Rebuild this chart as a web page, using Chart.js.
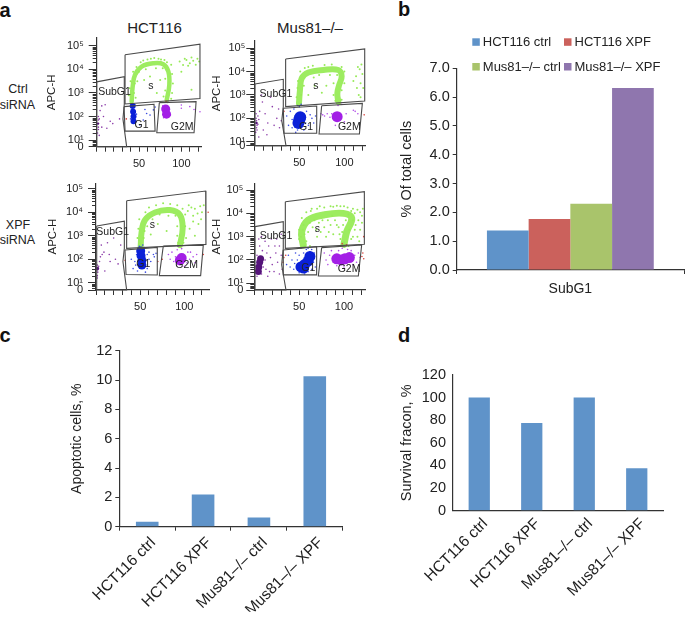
<!DOCTYPE html>
<html><head><meta charset="utf-8">
<style>
html,body{margin:0;padding:0;background:#fff;width:685px;height:617px;overflow:hidden}
canvas{position:absolute;left:0;top:0;pointer-events:none}
.t{position:absolute;font-family:"Liberation Sans",Arial,sans-serif;color:#222;white-space:nowrap;transform:translate(-50%,-50%);line-height:1}
.p{font-weight:bold;font-size:20px;color:#111}
</style>
<script src="https://cdn.jsdelivr.net/npm/chart.js@4"></script>
</head><body>
<script>
// ---------- panel b / c / d values ----------
const groups = ["HCT116 ctrl","HCT116 XPF","Mus81–/– ctrl","Mus81–/– XPF"];
const subG1Category = ["SubG1"];
const subG1Values = [1.37,1.77,2.30,6.32];
const apoptoticValues = [0.33,2.2,0.62,10.25];
const survivalValues = [100,77.5,100,37.5];
const groupColors = ["#5f93c9","#cb615c","#a9c46b","#8f76ae"];

// ---------- flow panels: x = DNA content, y = log10(APC-H) ----------
const gateNames = ["SubG1","s","G1","G2M"];
const xTickValues = [0,10,20,30,40,50,60,70,80,90,100,110,120];
const decadeValues = [1,2,3,4,5];
const decadeLabels = ["10¹","10²","10³","10⁴","10⁵"];
const minorFractions = [.301,.477,.602,.699,.778,.845,.903,.954];

// HCT116 ctrl
const a1Gates = [
 [[0,3.47],[32.6,3.69],[32.6,2.53],[31,1.9],[35.4,.72],[0,.72],[0,3.47]],
 [[33.5,4.62],[122,5.07],[122,2.76],[33.5,2.53],[33.5,4.62]],
 [[32.3,2.42],[67.7,2.52],[69,1.38],[33.5,1.38],[32.3,2.42]],
 [[74,2.59],[117.4,2.63],[115,1.31],[71,1.31],[74,2.59]]];
const a1GateText = [[21,3.03],[64,3.27],[53,1.64],[101,1.57]];
const a1Arc = [[41.3,2.63],[42.5,3.27],[45.3,3.77],[53.1,4.12],[66.9,4.26],[78.7,4.22],[84.6,3.91],[85.8,3.34],[82.7,2.7]];
const a1Green = [[38,2.9],[39,3.2],[40,3.5],[44,3.0],[46,2.8],[45,3.4],[48,3.5],[43,3.9],[47,4.1],[50,3.9],[52,4.3],[55,4.38],[58,4.0],[60,4.42],[64,4.45],[68,4.48],[70,4.05],[73,4.45],[76,4.42],[78,4.05],[80,4.4],[83,4.3],[88,4.2],[89,3.8],[90,3.4],[89,3.0],[88,2.75],[81,3.6],[81,3.1],[79,2.85],[84,2.6],[56,3.55],[71,3.0],[75,3.55],[63,3.7],[98,4.33],[102,4.19],[104,4.45],[106,4.4],[108,4.15],[110,4.26],[112,4.5],[114,4.36],[117,4.2],[119,4.45],[121,4.33],[112,3.13],[100,3.9]];
const a1BlueCore = [[42.5,2.45],[43,2.2],[43.5,2.0],[43.5,1.8]];
const a1Blue = [[45,2.5],[41,2.3],[47,2.1],[40,1.9],[46,1.75],[59,2.13],[67,2.28],[55,1.85],[63,2.06],[51,1.64],[69,2.4],[57,2.3]];
const a1PurpleCore = [[81.5,2.32],[82.5,2.1]];
const a1Purple = [[100,2.35],[110,2.42],[122,2.2],[100,2.49],[78,2.45],[86,2.3],[87,2.05],[79,1.95],[84,2.6],[115,2.3]];
const a1SubCore = [[1.5,1.7]];
const a1Sub = [[2,2.0],[2,1.85],[2,1.7],[2,1.55],[2,1.45],[1,1.3],[3,1.9],[6,2.45],[8,2.0],[16,1.8],[4,2.25],[19,1.7],[27,1.9],[12,1.5],[10,2.5],[3,1.2],[6,1.55]];
const a1Red = [[82,2.65],[35,1.9]];

// Mus81–/– ctrl
const a2Gates = [
 [[.7,3.47],[32.2,3.67],[32.2,2.5],[30.5,1.9],[35.2,.83],[.7,.83],[.7,3.47]],
 [[34.8,4.54],[122.6,4.97],[122.6,2.74],[34.8,2.5],[34.8,4.54]],
 [[32.2,2.43],[69.3,2.53],[69.3,1.36],[33,1.36],[32.2,2.43]],
 [[74.8,2.54],[120,2.64],[116.7,1.33],[71.9,1.33],[74.8,2.54]]];
const a2GateText = [[24,3.04],[68.5,3.36],[57.4,1.64],[105.5,1.64]];
const a2Arc = [[49.6,2.64],[50.7,3.21],[52.6,3.71],[60,3.96],[76.7,4.07],[93.3,4.07],[97,3.8],[94,3.4],[92.2,3.07],[93.3,2.71]];
const a2Green = [[47,2.9],[48,3.3],[48.5,3.6],[52,3.0],[55,3.4],[51,4.0],[56,4.15],[60,4.2],[66,3.75],[65,4.25],[72,3.85],[78,4.28],[84,3.85],[86,4.3],[92,3.85],[97,4.2],[100,4.0],[100,3.5],[97,3.2],[88,3.5],[88,3.0],[97,2.8],[95,2.6],[90,2.75],[67,3.4],[75,3.1],[80,3.4],[60,3.0],[113,3.8],[115,4.2],[118,3.5],[116,3.0],[120,3.9],[114,3.3],[118,2.9],[110,3.6],[119,4.3],[117,4.1],[121,3.3]];
const a2BlueCore = [[50,1.95],[49,1.8],[51,2.05]];
const a2Blue = [[36,2.1],[38,1.7],[40,2.3],[42,1.6],[44,2.4],[46,1.4],[48,2.55],[52,2.6],[55,1.5],[58,2.3],[60,1.7],[62,2.15],[64,2.0],[68,2.1],[66,1.8],[45,2.0],[56,2.1],[42,1.95],[57,1.8],[50,2.5],[48,1.5]];
const a2PurpleCore = [[92,2.07]];
const a2Purple = [[76,2.15],[78,2.1],[81,2.2],[84,2.05],[74,2.2],[86,2.2],[93,2.55],[97,2.6],[102,2.2],[100,1.85],[90,1.7],[112,2.3],[115,2.2],[110,2.35]];
const a2SubCore = [[2.5,1.8]];
const a2Sub = [[2,2.2],[2,2.0],[2.5,1.9],[2,1.8],[3,1.7],[2.5,1.6],[3,1.5],[1.5,1.4],[4,2.1],[5,1.95],[4,1.75],[6,2.3],[9,2.7],[12,2.2],[15,1.8],[10,1.5],[20,2.5],[22,1.7],[25,2.0],[28,1.6],[18,2.9],[8,3.0],[14,1.3],[27,2.4],[30,1.9],[5,1.2]];
const a2Red = [[122,2.15],[33,2.3]];

// HCT116 XPF
const a3Gates = [
 [[.8,3.41],[32.1,3.62],[32.1,2.46],[30.5,1.9],[34.7,.69],[.8,.69],[.8,3.41]],
 [[34.7,4.49],[124.2,4.9],[124.5,2.63],[34.7,2.46],[34.7,4.49]],
 [[32.8,2.39],[69.4,2.5],[69.4,1.33],[34,1.35],[32.8,2.39]],
 [[76.2,2.56],[121.5,2.6],[118.5,1.3],[71.7,1.3],[76.2,2.56]]];
const a3GateText = [[18.9,3.17],[63.8,3.45],[53.6,1.78],[102.6,1.75]];
const a3Arc = [[50.6,2.53],[51.7,3.17],[55.5,3.67],[66.8,3.99],[83.8,4.09],[95.1,3.88],[98.1,3.31],[95.1,2.6]];
const a3Green = [[47,2.9],[48,3.3],[49,3.7],[54,2.9],[55,3.2],[58,3.4],[56,4.0],[60,4.2],[64,3.7],[68,4.3],[72,3.9],[76,4.38],[82,3.85],[84,4.35],[90,3.85],[92,4.3],[98,4.15],[101,3.9],[101,3.4],[102,2.9],[92,3.4],[92,3.0],[93,2.7],[99,2.7],[70,3.5],[80,3.2],[62,3.05],[104,4.05],[108,4.2],[110,3.85],[112,4.15],[115,3.95],[118,4.25],[120,4.0],[122,4.3],[110,3.6],[116,3.5],[106,3.3],[112,3.0],[105,4.3],[119,3.7]];
const a3BlueCore = [[50.6,2.35],[51,2.15],[52,1.95],[52,1.75]];
const a3Blue = [[40,2.0],[42,1.6],[44,1.9],[46,2.2],[47,1.5],[55,2.5],[58,2.2],[60,2.0],[62,1.9],[65,2.2],[66,2.1],[58,1.6],[56,1.45],[49,2.55],[53,2.6],[68,2.25],[45,1.75],[60,2.3]];
const a3PurpleCore = [[97,2.05],[95,1.95]];
const a3Purple = [[82,2.2],[84,2.0],[86,2.3],[88,1.9],[90,2.1],[92,2.4],[93,2.55],[104,2.3],[106,2.0],[110,2.1],[112,1.85],[114,2.2],[100,1.7],[103,1.85],[107,2.3],[97,2.45]];
const a3SubCore = [[1.5,1.6]];
const a3Sub = [[1.5,1.75],[2,1.65],[2,1.55],[2,1.45],[3,1.7],[1.5,1.3],[1.5,1.2],[4,1.9],[5,2.1],[7,2.2],[6,2.6],[13,2.7],[15,2.2],[22,2.0],[25,1.8],[10,1.5],[16,1.9],[9,2.3],[20,2.9],[28,2.6]];
const a3Red = [[75,2.0],[70,1.9],[127,4.0],[121.5,2.2],[33,1.95]];

// Mus81–/– XPF
const a4Gates = [
 [[.7,3.43],[32.3,3.64],[32.3,2.5],[30.5,1.79],[35.3,.71],[.7,.71],[.7,3.43]],
 [[34.6,4.5],[122.7,4.93],[122.7,2.67],[34.6,2.5],[34.6,4.5]],
 [[32.3,2.43],[69.5,2.57],[69.5,1.36],[33.1,1.36],[32.3,2.43]],
 [[75.1,2.53],[119.7,2.64],[116,1.31],[71.4,1.31],[75.1,2.53]]];
const a4GateText = [[24.2,3.04],[70.3,3.33],[60.2,1.64],[105.6,1.6]];
const a4Arc = [[54.6,2.64],[52.8,3.21],[60.2,3.71],[77,3.93],[99.3,4.0],[108.6,3.79],[103,3.21],[100,2.67]];
const a4Green = [[50,2.9],[50,3.3],[53,3.8],[58,4.05],[63,4.1],[70,4.2],[78,4.25],[85,4.3],[92,4.33],[100,4.3],[108,4.1],[110,3.7],[112,3.3],[108,2.9],[105,2.6],[98,3.2],[94,3.4],[90,3.7],[85,3.5],[78,3.4],[72,3.6],[65,3.4],[60,3.2],[58,2.8],[62,2.6],[70,3.0],[80,3.0],[88,3.1],[96,2.9],[100,2.75],[112,4.0],[115,4.15],[118,4.05],[120,3.9],[116,3.7],[113,3.5],[118,3.3],[120,3.6],[115,3.0],[110,4.2],[121,4.2],[117,2.8],[52,3.0],[55,3.5],[56,3.1],[62,3.6],[67,3.7],[69,3.3],[74,3.2],[76,3.7],[82,3.7],[83,3.2],[87,3.9],[92,3.5],[95,3.1],[99,3.5],[102,3.7],[105,3.95],[106,3.3],[110,3.0],[64,4.2],[73,4.3],[88,4.28],[96,4.3],[104,4.25],[56,2.6],[54,3.3]];
const a4BlueCore = [[52,1.7],[55,1.65],[56,1.8],[60,1.95],[62,2.15]];
const a4Blue = [[36,1.8],[38,2.2],[40,1.7],[42,2.0],[44,1.6],[46,2.3],[48,2.0],[50,2.2],[52,2.5],[55,2.3],[58,2.45],[60,2.5],[64,2.45],[67,2.3],[66,1.9],[64,1.6],[60,1.5],[68,1.7],[50,1.45],[56,1.4],[45,1.85],[62,2.35]];
const a4PurpleCore = [[92,2.05],[97,2.0],[101,2.05],[106,2.1]];
const a4Purple = [[78,2.3],[80,2.0],[82,1.8],[84,2.2],[86,2.4],[88,1.9],[90,2.2],[92,1.75],[94,2.4],[98,2.5],[104,2.45],[108,2.4],[112,2.2],[114,1.9],[116,2.3],[110,1.8],[118,2.1],[100,1.7]];
const a4SubCore = [[4.5,1.5],[5,1.7],[6,1.9],[7,2.05]];
const a4Sub = [[3,1.3],[8,1.4],[10,1.7],[12,2.0],[14,2.3],[9,2.4],[6,2.6],[5,2.9],[12,2.8],[16,2.6],[18,2.1],[20,1.8],[22,1.5],[24,2.3],[26,1.9],[28,2.6],[30,2.2],[31,1.6],[15,1.3],[19,2.9],[25,2.9],[30,3.1],[13,1.6],[17,1.5],[23,2.6],[28,1.4],[8,3.0],[3,2.2]];
const a4Red = [[120,2.15],[121,2.3],[122,2.05],[32,1.9],[33,2.1],[98,2.7],[103,2.65],[35,2.2],[122,3.0]];

// ---------- helpers ----------
const FONT = '"Liberation Sans", Arial, sans-serif';
const INK = "#222";
Chart.defaults.font.family = FONT;
Chart.defaults.color = INK;
Chart.defaults.animation = false;

function canvas(){
  const c = document.createElement("canvas");
  c.width = 685; c.height = 617; document.body.appendChild(c);
  return c.getContext("2d");
}
function text(str,x,y,size,cls){
  const d = document.createElement("div");
  d.className = "t" + (cls ? " " + cls : "");
  d.textContent = str; d.style.left = x + "px"; d.style.top = y + "px";
  if (size) d.style.fontSize = size + "px";
  document.body.appendChild(d);
}
// Places the plot area at a fixed rectangle of the page.
function frame(box, yWidth, xHeight){
  return {padding:{left:box.L - yWidth, right:685 - box.R, top:box.T, bottom:617 - box.B - xHeight}};
}
const flowPlugin = {
  id:"flowExtras",
  afterDraw(chart,_a,o){
    const {ctx,scales:{x,y}} = chart;
    ctx.save();
    ctx.strokeStyle = "#333"; ctx.lineWidth = 1;
    ctx.beginPath();
    decadeValues.forEach(d => minorFractions.forEach(f => {
      const v = d - 1 + f;
      if (v < y.min || v > y.max) return;
      const p = Math.round(y.getPixelForValue(v)) + .5;
      ctx.moveTo(x.left, p); ctx.lineTo(x.left - 4, p);
    }));
    ctx.stroke();
    ctx.fillStyle = "#222"; ctx.font = "10.5px " + FONT;
    ctx.textAlign = "center"; ctx.textBaseline = "middle";
    o.labels.forEach((s,i) => ctx.fillText(s, x.getPixelForValue(o.at[i][0]), y.getPixelForValue(o.at[i][1])));
    ctx.restore();
  }
};
function flowChart(box,xMax,yMin,yMax,titleX,P,arcWidth,coreR,yPad){
  const yw = box.L - titleX + 6.9;
  const pts = (data,color,r,order) => ({data,showLine:false,pointRadius:r,pointBorderWidth:0,pointBackgroundColor:color,order,clip:false});
  const datasets = [];
  P.gates.forEach(g => datasets.push({data:g,showLine:true,tension:0,borderColor:"#4a4a4a",borderWidth:1.1,pointRadius:0,order:0,clip:false}));
  datasets.push({data:P.arc,showLine:true,tension:.4,borderColor:"#9dec60",borderWidth:arcWidth,borderCapStyle:"round",pointRadius:0,order:6});
  datasets.push(pts(P.green,"#97ea58",1,5));
  datasets.push(pts(P.blue,"#3a4be0",.8,4));
  datasets.push(pts(P.blueCore,"#0a20d8",coreR[0],3));
  datasets.push(pts(P.purple,"#b04be8",.8,4));
  datasets.push(pts(P.purpleCore,"#a31fe6",coreR[1],3));
  datasets.push(pts(P.sub,"#8a3aa8",.8,4));
  datasets.push(pts(P.subCore,"#55147a",coreR[2],3));
  datasets.push(pts(P.red,"#d8443c",.8,2));
  new Chart(canvas(),{
    type:"scatter",
    data:{datasets},
    options:{
      responsive:false,events:[],
      layout:frame(box,yw,32),
      plugins:{legend:{display:false},tooltip:{enabled:false},
        flowExtras:{labels:gateNames,at:P.text}},
      scales:{
        x:{type:"linear",min:0,max:xMax,
          afterFit(s){s.height=32;},
          afterBuildTicks(s){s.ticks=xTickValues.map(value=>({value}));},
          grid:{drawOnChartArea:false,tickLength:5,tickColor:"#333"},
          border:{color:"#333",width:1.2},
          ticks:{autoSkip:false,maxRotation:0,padding:5.5,font:{size:11},
            callback:v=>(v===50||v===100)?String(v):""}},
        y:{type:"linear",min:yMin,max:yMax,
          afterFit(s){s.width=yw;},
          afterBuildTicks(s){s.ticks=[yMin].concat(decadeValues).map(value=>({value}));},
          grid:{drawOnChartArea:false,tickLength:8,tickColor:"#333"},
          border:{color:"#333",width:1.2},
          title:{display:true,text:"APC-H",font:{size:11.5},padding:0,color:INK},
          ticks:{autoSkip:false,padding:yPad,font:{size:11},
            callback:v=>v===yMin?"0":decadeLabels[decadeValues.indexOf(v)]}}
      }
    },
    plugins:[flowPlugin]
  });
}
function barChart(box,titleText,titleX,titleSize,labels,datasets,yMax,yStep,tickFmt,xH,catPct,yTicks,xTicks,rot,legendDraw){
  const yw = box.L - titleX + titleSize * .6;
  new Chart(canvas(),{
    type:"bar",
    data:{labels,datasets},
    options:{
      responsive:false,events:[],
      layout:frame(box,yw,xH),
      datasets:{bar:{categoryPercentage:catPct,barPercentage:1,borderWidth:0}},
      plugins:{legend:{display:false},tooltip:{enabled:false}},
      scales:{
        x:{afterFit(s){s.height=xH;},
          grid:{drawOnChartArea:false,drawTicks:true,tickLength:xTicks?4:1,tickColor:xTicks?"#333":"rgba(0,0,0,0)",offset:true},
          border:{color:"#333",width:1.2},
          ticks:{autoSkip:false,minRotation:rot,maxRotation:rot,padding:rot?3:7,labelOffset:rot?6:0,font:{size:rot?15.5:14}}},
        y:{min:0,max:yMax,
          afterFit(s){s.width=yw;},
          grid:{drawOnChartArea:false,tickLength:yTicks?4:1,tickColor:yTicks?"#333":"rgba(0,0,0,0)"},
          border:{color:"#333",width:1.2},
          title:{display:true,text:titleText,font:{size:titleSize},padding:0,color:INK},
          ticks:{stepSize:yStep,padding:yTicks?3:6,font:{size:14.5},callback:tickFmt}}
      }
    },
    plugins:legendDraw?[legendDraw]:[]
  });
}

// ---------- page text ----------
text("a",5,10,0,"p"); text("b",404,9,0,"p"); text("c",5,335,0,"p"); text("d",404,335,0,"p");
text("HCT116",154.5,27,15); text("Mus81–/–",310,27,15);
text("Ctrl",18,89,12.5); text("siRNA",17.5,105,12.5);
text("XPF",18,225,12.5); text("siRNA",17.5,240,12.5);

// ---------- panel a ----------
flowChart({L:96.7,R:202,T:38,B:146.7},124.4,.72,5.33,52,
 {gates:a1Gates,text:a1GateText,arc:a1Arc,green:a1Green,blue:a1Blue,blueCore:a1BlueCore,purple:a1Purple,purpleCore:a1PurpleCore,sub:a1Sub,subCore:a1SubCore,red:a1Red},4.5,[3,4.5,1.2],5);
flowChart({L:254.3,R:365.7,T:41,B:145.7},123.7,.83,5.31,216.7,
 {gates:a2Gates,text:a2GateText,arc:a2Arc,green:a2Green,blue:a2Blue,blueCore:a2BlueCore,purple:a2Purple,purpleCore:a2PurpleCore,sub:a2Sub,subCore:a2SubCore,red:a2Red},6,[6,5.5,1.2],1);
flowChart({L:96,R:209.3,T:183.3,B:290},128.3,.69,5.23,53,
 {gates:a3Gates,text:a3GateText,arc:a3Arc,green:a3Green,blue:a3Blue,blueCore:a3BlueCore,purple:a3Purple,purpleCore:a3PurpleCore,sub:a3Sub,subCore:a3SubCore,red:a3Red},6,[4.5,5,1.8],5);
flowChart({L:254.3,R:365.7,T:183.3,B:290},124.2,.71,5.29,216.7,
 {gates:a4Gates,text:a4GateText,arc:a4Arc,green:a4Green,blue:a4Blue,blueCore:a4BlueCore,purple:a4Purple,purpleCore:a4PurpleCore,sub:a4Sub,subCore:a4SubCore,red:a4Red},7,[5.5,5.5,3.5],3);

// ---------- panel b ----------
const legendSlots = [[472.3,38.3],[564,38.3],[472.3,63],[564,63]];
const legendPlugin = {
  id:"twoRowLegend",
  afterDraw(chart){
    const ctx = chart.ctx; ctx.save();
    ctx.font = "13px " + FONT; ctx.textBaseline = "middle"; ctx.textAlign = "left";
    chart.data.datasets.forEach((d,i) => {
      const [sx,sy] = legendSlots[i];
      ctx.fillStyle = d.backgroundColor; ctx.fillRect(sx,sy,7.5,7.5);
      ctx.fillStyle = INK; ctx.fillText(d.label,sx + 10.5,sy + 4);
    });
    ctx.restore();
  }
};
barChart({L:456.7,R:684,T:68.3,B:270},"% Of total cells",406.7,14.5,subG1Category,
  groups.map((g,i)=>({label:g,data:[subG1Values[i]],backgroundColor:groupColors[i]})),
  7,1,v=>v.toFixed(1),40,.734,true,true,0,legendPlugin);

// ---------- panel c ----------
barChart({L:119.3,R:342.7,T:350.7,B:526.7},"Apoptotic cells, %",77,14,groups,
  [{data:apoptoticValues,backgroundColor:groupColors[0]}],
  12,2,v=>v,85,.405,true,true,45,null);

// ---------- panel d ----------
barChart({L:453,R:663,T:375,B:510.7},"Survival fracon, %",406.7,14.5,groups,
  [{data:survivalValues,backgroundColor:groupColors[0]}],
  120,20,v=>v,100,.405,false,false,45,null);
</script>
</body></html>
